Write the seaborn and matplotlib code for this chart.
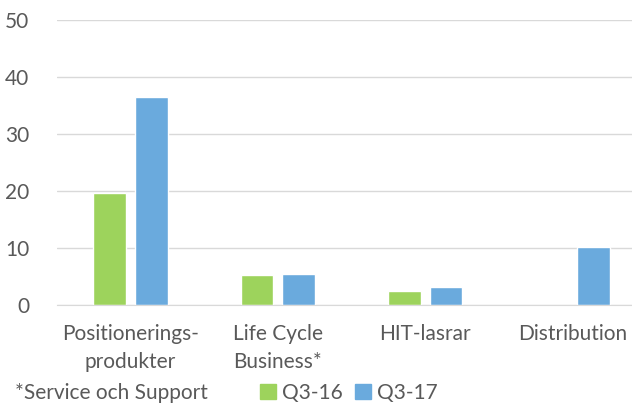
import pandas as pd
import seaborn as sns
import matplotlib.pyplot as plt
from matplotlib.patches import Patch

categories = ['Positionerings-\nprodukter', 'Life Cycle\nBusiness*', 'HIT-lasrar', 'Distribution']
q3_16 = [19.7, 5.2, 2.5, None]
q3_17 = [36.5, 5.5, 3.1, 10.1]
series = ['Q3-16', 'Q3-17']
colors = ['#9DD35C', '#6AAADD']
yticks = [0, 10, 20, 30, 40, 50]
footnote = '*Service och Support'

df = pd.DataFrame({
    'cat': categories * 2,
    'serie': [series[0]] * 4 + [series[1]] * 4,
    'val': q3_16 + q3_17,
})

sns.set_style('white')
plt.rcParams['font.family'] = ['Lato', 'DejaVu Sans']
txt = '#595959'
fs = 15

fig = plt.figure(figsize=(6.32, 4.05), dpi=100)
ax = fig.add_axes([57 / 632, 1 - 305 / 405, 589 / 632, 285 / 405])

sns.barplot(data=df, x='cat', y='val', hue='serie', palette=colors,
            width=0.57, gap=0.22, ax=ax, legend=False, saturation=1)

ax.set_ylim(0, 50)
ax.set_xlim(-0.5, 3.5)
ax.set_yticks(yticks)
ax.yaxis.grid(True, color='#D9D9D9', linewidth=1)
ax.set_axisbelow(True)
for s in ['top', 'right', 'left']:
    ax.spines[s].set_visible(False)
ax.spines['bottom'].set_color('#D9D9D9')
ax.tick_params(axis='both', length=0, labelsize=fs, colors=txt)
ax.tick_params(axis='y', pad=20)
ax.tick_params(axis='x', pad=14)
ax.set_xlabel('')
ax.set_ylabel('')
for lab in ax.get_xticklabels():
    lab.set_linespacing(1.45)

fig.text(15 / 632, 1 - 393 / 405, footnote, fontsize=fs, color=txt, va='center')
handles = [Patch(color=c, label=s) for c, s in zip(colors, series)]
fig.legend(handles=handles, loc='center left', bbox_to_anchor=(252 / 632, 1 - 393 / 405),
           ncol=2, frameon=False, fontsize=fs, handlelength=0.75, handleheight=0.75,
           handletextpad=0.3, columnspacing=0.6, labelcolor=txt, borderaxespad=0)

fig.savefig('out.png', dpi=100)
